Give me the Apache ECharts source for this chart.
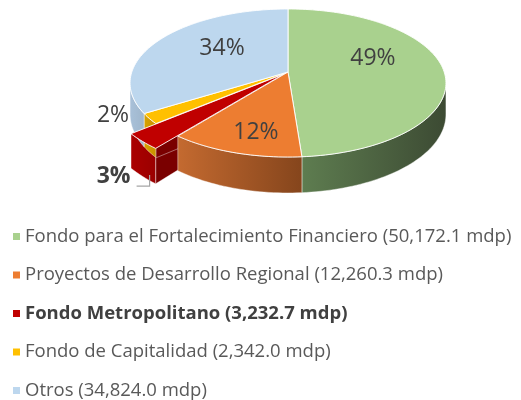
<!DOCTYPE html>
<html>
<head>
<meta charset="utf-8">
<script src="https://cdn.jsdelivr.net/npm/echarts@6/dist/echarts.min.js"></script>
<style>
html, body { margin: 0; padding: 0; background: #fff; }
#chart { width: 521px; height: 400px; }
</style>
</head>
<body>
<div id="chart"></div>
<script>
var categories = ['Fondo para el Fortalecimiento Financiero', 'Proyectos de Desarrollo Regional', 'Fondo Metropolitano', 'Fondo de Capitalidad', 'Otros'];
var values = [50172.1, 12260.3, 3232.7, 2342.0, 34824.0];
var colors = ['#A9D18E', '#ED7D31', '#C00000', '#FFC000', '#BDD7EE'];

// shading for the fake 3d sides
var wallColors = [['#5e7d50', '#3c4a33'], ['#c46a30', '#85451c'], ['#ab0000', '#9a0000'], ['#d9a300', '#c89200'], ['#a9c1d9', '#9fb6cc']];
var faceColors = ['#4a6340', '#9c5222', '#7a0000', '#b08300', '#93a9bf'];
var highlight = 2; // slice pulled out, bold label + legend
// label placement: [angle shift, radius] relative to slice middle
var labelAdj = [[-17.4, 0.594], [-3.2, 0.76], [-6.4, 1.5], [8, 1.166], [9, 0.564]];
var FONT = 'Open Sans';

var total = values.reduce(function (a, b) { return a + b; }, 0);
var startAngle = [];
var acc = 0;
values.forEach(function (v) { startAngle.push(acc / total * 360); acc += v; });

// perspective of the disc
var CX = 288, CY = 72, A = 156.2, B = 72.4, K = 0.1486, T = 30.6;
function proj(u, v, drop) {
    var w = 1 - K * v;
    return [CX + A * u / w, CY + B * v / w + (drop ? T / w : 0)];
}
function rad(d) { return d * Math.PI / 180; }

function buildSlice(i, val) {
    var s = startAngle[i], e = s + val / total * 360, m = (s + e) / 2;
    var hi = i === highlight;
    var ex = hi ? 0.04 : 0;
    var R = hi ? 1.13 : 1;
    var ou = ex * Math.sin(rad(m)), ov = -ex * Math.cos(rad(m));
    function pt(a, r, drop) {
        return proj(ou + r * Math.sin(rad(a)), ov - r * Math.cos(rad(a)), drop);
    }
    var n = Math.max(4, Math.ceil((e - s) / 1.5));
    var arc = [], arcB = [], j;
    for (j = 0; j <= n; j++) {
        var a = s + (e - s) * j / n;
        arc.push(pt(a, R, false));
        arcB.push(pt(a, R, true));
    }
    var children = [];
    // radial faces
    [s, e].forEach(function (a) {
        children.push({
            type: 'polygon', z2: hi ? 1.5 : 1,
            shape: { points: [pt(0, 0, false), pt(a, R, false), pt(a, R, true), pt(0, 0, true)] },
            style: { fill: faceColors[i], stroke: 'rgba(255,255,255,0.5)', lineWidth: 0.8 }
        });
    });
    // outer wall, only the part facing us
    var j0 = -1, j1 = -1;
    for (j = 0; j < n; j++) {
        if (arc[j + 1][0] < arc[j][0]) { if (j0 < 0) j0 = j; j1 = j; }
    }
    if (j0 >= 0) {
        var pts = arc.slice(j0, j1 + 2).concat(arcB.slice(j0, j1 + 2).reverse());
        children.push({
            type: 'polygon', z2: 2,
            shape: { points: pts },
            style: {
                fill: { type: 'linear', x: 0, y: 0, x2: 1, y2: 0, colorStops: [
                    { offset: 0, color: wallColors[i][0] }, { offset: 1, color: wallColors[i][1] }] },
                stroke: 'rgba(255,255,255,0.55)', lineWidth: 0.8
            }
        });
    }
    // top
    children.push({
        type: 'polygon', z2: 3,
        shape: { points: [pt(0, 0, false)].concat(arc) },
        style: { fill: colors[i], stroke: 'rgba(255,255,255,0.9)', lineWidth: 1 }
    });
    // label
    var la = m + labelAdj[i][0], lr = labelAdj[i][1];
    var lp = proj(lr * Math.sin(rad(la)), -lr * Math.cos(rad(la)), false);
    children.push({
        type: 'text', z2: 5, x: lp[0], y: lp[1],
        style: {
            text: Math.round(val / total * 100) + '%',
            fill: '#404040', fontFamily: FONT, fontSize: 23,
            fontWeight: hi ? 'bold' : 'normal',
            align: 'center', verticalAlign: 'middle'
        }
    });
    if (hi) {
        children.push({
            type: 'polyline', z2: 5,
            shape: { points: [[lp[0] + 23, lp[1] + 10], [lp[0] + 36, lp[1] + 10], [lp[0] + 36, lp[1] - 1]] },
            style: { stroke: '#a6a6a6', lineWidth: 1.2, fill: null }
        });
    }
    return { type: 'group', children: children };
}

var chart = echarts.init(document.getElementById('chart'));
chart.setOption({
    backgroundColor: '#fff',
    animation: false,
    legend: {
        orient: 'vertical',
        left: 13,
        top: 227,
        height: 190,
        padding: 0,
        icon: 'rect',
        itemWidth: 7,
        itemHeight: 7,
        itemGap: 19.5,
        selectedMode: false,
        textStyle: { fontFamily: FONT, fontSize: 18.5, color: '#595959', lineHeight: 18 },
        data: categories.map(function (c, i) {
            return i === highlight ? { name: c, textStyle: { fontWeight: 'bold', color: '#404040' } } : { name: c };
        }),
        formatter: function (name) {
            var v = values[categories.indexOf(name)];
            return name + ' (' + v.toLocaleString('en-US', { minimumFractionDigits: 1, maximumFractionDigits: 1 }) + ' mdp)';
        }
    },
    series: categories.map(function (name, i) {
        return {
            type: 'custom',
            name: name,
            coordinateSystem: 'none',
            silent: true,
            itemStyle: { color: colors[i] },
            data: [values[i]],
            renderItem: function (params, api) {
                return buildSlice(i, api.value(0));
            }
        };
    })
});
</script>
</body>
</html>
